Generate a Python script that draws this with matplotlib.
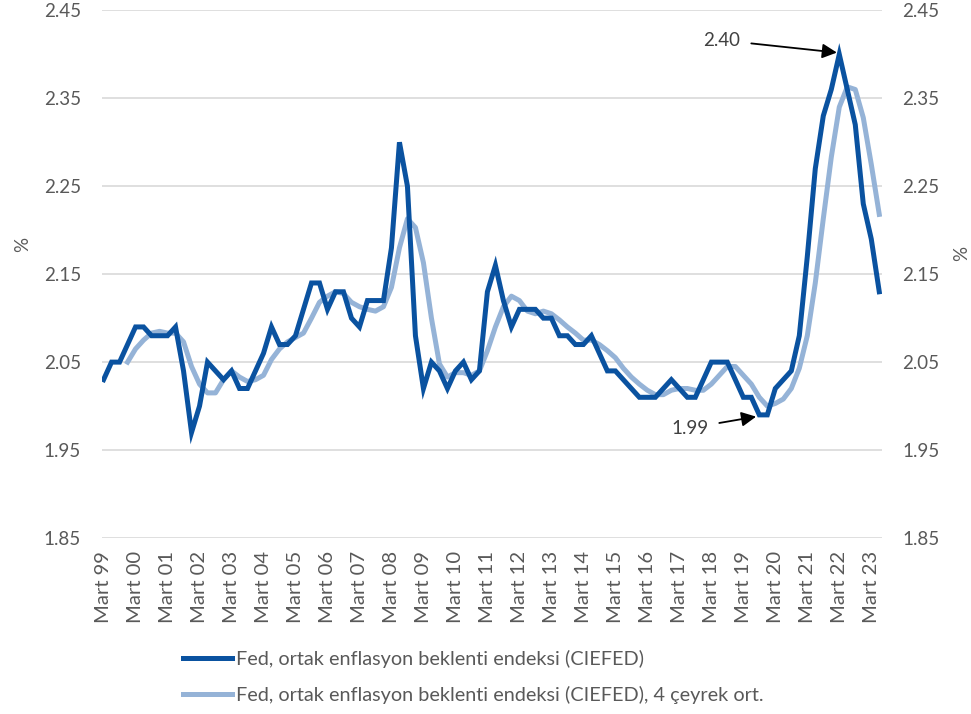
import matplotlib
matplotlib.use("Agg")
import matplotlib.pyplot as plt

plt.rcParams['font.family'] = ['Lato', 'DejaVu Sans']

# Quarterly data, March 1999 .. June 2023
ciefed = [
    2.03, 2.05, 2.05, 2.07, 2.09, 2.09, 2.08, 2.08, 2.08, 2.09,
    2.04, 1.97, 2.00, 2.05, 2.04, 2.03, 2.04, 2.02, 2.02, 2.04,
    2.06, 2.09, 2.07, 2.07, 2.08, 2.11, 2.14, 2.14, 2.11, 2.13,
    2.13, 2.10, 2.09, 2.12, 2.12, 2.12, 2.18, 2.30, 2.25, 2.08,
    2.02, 2.05, 2.04, 2.02, 2.04, 2.05, 2.03, 2.04, 2.13, 2.16,
    2.12, 2.09, 2.11, 2.11, 2.11, 2.10, 2.10, 2.08, 2.08, 2.07,
    2.07, 2.08, 2.06, 2.04, 2.04, 2.03, 2.02, 2.01, 2.01, 2.01,
    2.02, 2.03, 2.02, 2.01, 2.01, 2.03, 2.05, 2.05, 2.05, 2.03,
    2.01, 2.01, 1.99, 1.99, 2.02, 2.03, 2.04, 2.08, 2.17, 2.27,
    2.33, 2.36, 2.40, 2.36, 2.32, 2.23, 2.19, 2.13,
]

# 4-quarter average, starts December 1999
ciefed_4q = [
    None, None, None,
    2.050, 2.065, 2.075, 2.083, 2.085, 2.083, 2.083, 2.073, 2.045, 2.025,
    2.015, 2.015, 2.030, 2.040, 2.033, 2.028, 2.030, 2.035, 2.053, 2.065,
    2.073, 2.078, 2.083, 2.100, 2.118, 2.125, 2.130, 2.128, 2.118, 2.113,
    2.110, 2.108, 2.113, 2.135, 2.180, 2.213, 2.203, 2.163, 2.100, 2.048,
    2.033, 2.038, 2.038, 2.035, 2.040, 2.063, 2.090, 2.113, 2.125, 2.120,
    2.108, 2.105, 2.108, 2.105, 2.098, 2.090, 2.083, 2.075, 2.075, 2.070,
    2.063, 2.055, 2.043, 2.033, 2.025, 2.018, 2.013, 2.013, 2.018, 2.020,
    2.020, 2.018, 2.018, 2.025, 2.035, 2.045, 2.045, 2.035, 2.025, 2.010,
    2.000, 2.003, 2.008, 2.020, 2.043, 2.080, 2.140, 2.213, 2.283, 2.340,
    2.363, 2.360, 2.328, 2.275, 2.218,
]

tick_labels = ["Mart 99", "Mart 00", "Mart 01", "Mart 02", "Mart 03", "Mart 04",
               "Mart 05", "Mart 06", "Mart 07", "Mart 08", "Mart 09", "Mart 10",
               "Mart 11", "Mart 12", "Mart 13", "Mart 14", "Mart 15", "Mart 16",
               "Mart 17", "Mart 18", "Mart 19", "Mart 20", "Mart 21", "Mart 22",
               "Mart 23"]
y_ticks = [1.85, 1.95, 2.05, 2.15, 2.25, 2.35, 2.45]

label_main = "Fed, ortak enflasyon beklenti endeksi (CIEFED)"
label_avg = "Fed, ortak enflasyon beklenti endeksi (CIEFED), 4 çeyrek ort."

dark = "#0A52A0"
light = "#95B3D7"
grey_txt = "#595959"

fig = plt.figure(figsize=(9.71, 7.14), dpi=100)
ax = fig.add_axes([0.105, 0.2465, 0.803, 0.739])

x = list(range(len(ciefed)))
xa = [i for i, v in enumerate(ciefed_4q) if v is not None]
ya = [v for v in ciefed_4q if v is not None]

ax.plot(x, ciefed, color=dark, lw=3.6, solid_joinstyle='miter', label=label_main, zorder=3)
ax.plot(xa, ya, color=light, lw=3.6, solid_joinstyle='round', label=label_avg, zorder=2)

ax.set_ylim(1.85, 2.45)
ax.set_xlim(-0.2, 97.3)
ax.set_yticks(y_ticks)
ax.set_yticklabels([f"{v:.2f}" for v in y_ticks])
ax.set_xticks(list(range(0, len(ciefed), 4)))
ax.set_xticklabels(tick_labels, rotation=90)

ax.grid(axis='y', color='#D9D9D9', lw=1.2)
ax.set_axisbelow(True)
for s in ax.spines.values():
    s.set_visible(False)
ax.tick_params(axis='y', length=0, pad=15, labelsize=13.5, labelcolor=grey_txt,
               labelright=True, right=False)
ax.tick_params(axis='x', length=0, pad=9.5, labelsize=14.6, labelcolor=grey_txt)

fig.text(0.023, 0.657, "%", rotation=90, ha='center', va='center', fontsize=13.5, color=grey_txt)
fig.text(0.990, 0.645, "%", rotation=90, ha='center', va='center', fontsize=13.5, color=grey_txt)

# annotations
ax.annotate("2.40", xy=(91.7, 2.402), xytext=(77.3, 2.416), ha='center', va='center',
            fontsize=13.5, color='#404040',
            arrowprops=dict(arrowstyle='-|>', color='black', lw=1.3, mutation_scale=22,
                            shrinkA=6, shrinkB=0))
ax.annotate("1.99", xy=(81.6, 1.988), xytext=(73.3, 1.975), ha='center', va='center',
            fontsize=13.5, color='#404040',
            arrowprops=dict(arrowstyle='-|>', color='black', lw=1.3, mutation_scale=22,
                            shrinkA=6, shrinkB=0))

leg = fig.legend(loc='upper left', bbox_to_anchor=(0.1885, 1 - 650 / 714), frameon=False,
                 fontsize=14.3, handlelength=2.45, handletextpad=0.2, labelspacing=0.9,
                 borderaxespad=0, borderpad=0)
for t in leg.get_texts():
    t.set_color(grey_txt)

fig.savefig("out.png", dpi=100)
